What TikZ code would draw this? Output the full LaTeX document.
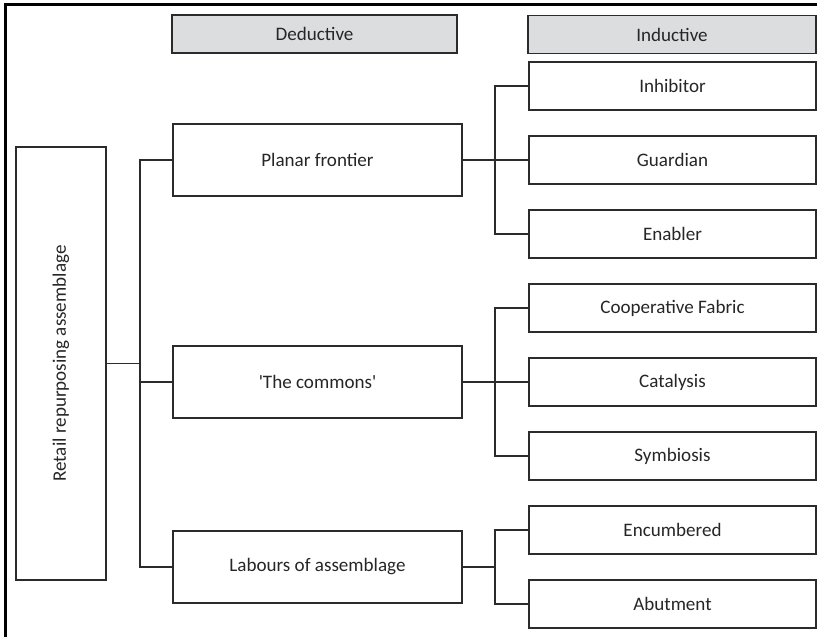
\documentclass[tikz,border=0pt]{standalone}
\usepackage{fontspec}
\setmainfont{Carlito}[Ligatures=TeXOff]
\definecolor{txt}{HTML}{262626}
\definecolor{edge}{HTML}{2B2B2B}
\definecolor{hdr}{HTML}{DCDDDF}
\begin{document}
\begin{tikzpicture}[x=0.75pt,y=-0.75pt,
  box/.style={draw=edge,line width=0.8pt,rectangle,inner sep=0pt,text=txt,font=\fontsize{14.3}{17}\selectfont},
  head/.style={box,fill=hdr,minimum height=28.5pt},
  mid/.style={box,minimum width=216.75pt,minimum height=54pt},
  leaf/.style={box,minimum width=215.25pt,minimum height=36pt},
  link/.style={draw=edge,line width=0.8pt}]
\useasboundingbox (0,0) rectangle (817,637);
\draw[line width=2.2pt] (5.5,637) -- (5.5,4.5) -- (817,4.5);
\node[head,minimum width=213.75pt] (ded) at (314.5,34) {Deductive};
\node[head,minimum width=216pt] (ind) at (672,34.5) {Inductive};
\node[box,minimum width=67.5pt,minimum height=324.75pt] (retail) at (61,363.5) {\rotatebox{90}{Retail repurposing assemblage}};
\node[mid] (planar) at (317.5,160) {Planar frontier};
\node[mid] (commons) at (317.5,382) {'The commons'};
\node[mid] (labours) at (317.5,567) {Labours of assemblage};
\node[leaf] (inh) at (672.5,86) {Inhibitor};
\node[leaf] (gua) at (672.5,160) {Guardian};
\node[leaf] (ena) at (672.5,234) {Enabler};
\node[leaf] (coo) at (672.5,308) {Cooperative Fabric};
\node[leaf] (cat) at (672.5,382) {Catalysis};
\node[leaf] (sym) at (672.5,456) {Symbiosis};
\node[leaf] (enc) at (672.5,530) {Encumbered};
\node[leaf] (abu) at (672.5,604) {Abutment};
\coordinate (b1) at (140,363.5);
\coordinate (b2) at (495,160);
\coordinate (b3) at (495,382);
\coordinate (b4) at (495,567);
\draw[link] (retail.east) -- (b1);
\draw[link] (planar.west) -| (b1);
\draw[link] (commons.west) -| (b1);
\draw[link] (labours.west) -| (b1);
\draw[link] (planar.east) -- (b2);
\draw[link] (inh.west) -| (b2);
\draw[link] (gua.west) -- (b2);
\draw[link] (ena.west) -| (b2);
\draw[link] (commons.east) -- (b3);
\draw[link] (coo.west) -| (b3);
\draw[link] (cat.west) -- (b3);
\draw[link] (sym.west) -| (b3);
\draw[link] (labours.east) -- (b4);
\draw[link] (enc.west) -| (b4);
\draw[link] (abu.west) -| (b4);
\end{tikzpicture}
\end{document}
